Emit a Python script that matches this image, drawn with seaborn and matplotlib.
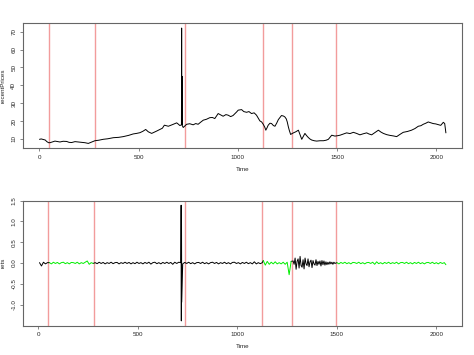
import numpy as np
import pandas as pd
import matplotlib
matplotlib.use("Agg")
import matplotlib.pyplot as plt
import seaborn as sns

# ---- data ----
price_time = [1, 10, 21, 30, 38, 47, 54, 65, 79, 90, 104, 120, 138, 150, 163, 180, 197, 213, 230, 247,
              262, 280, 300, 322, 345, 373, 400, 423, 450, 473, 490, 507, 522, 536, 549, 566, 580, 591,
              608, 620, 630, 650, 662, 675, 692, 700, 708, 716, 717, 718, 719, 720, 725, 735, 742, 758,
              775, 788, 800, 812, 826, 842, 859, 872, 884, 901, 914, 926, 940, 951, 964, 976, 994, 1002,
              1019, 1030, 1044, 1056, 1069, 1082, 1094, 1103, 1111, 1120, 1128, 1136, 1141, 1147, 1153,
              1162, 1170, 1179, 1187, 1196, 1204, 1212, 1220, 1230, 1237, 1244, 1249, 1254, 1259, 1266,
              1273, 1280, 1292, 1305, 1313, 1322, 1330, 1338, 1346, 1355, 1363, 1372, 1385, 1397, 1414,
              1431, 1445, 1456, 1465, 1473, 1489, 1502, 1515, 1532, 1548, 1565, 1582, 1598, 1615, 1632,
              1649, 1660, 1674, 1690, 1708, 1720, 1733, 1750, 1766, 1783, 1800, 1816, 1833, 1855, 1875,
              1892, 1909, 1922, 1934, 1947, 1959, 1972, 1984, 1997, 2010, 2022, 2035, 2042, 2048]
recent_prices = [9.8, 10.0, 9.7, 9.4, 8.5, 7.9, 7.9, 8.3, 8.8, 8.6, 8.3, 8.7, 8.6, 8.1, 8.0, 8.5, 8.3, 8.1, 7.9, 7.5,
                 8.2, 9.0, 9.3, 9.8, 10.1, 10.7, 10.9, 11.3, 12.0, 12.8, 13.1, 13.5, 14.3, 15.3, 14.0, 13.1, 13.8, 14.4,
                 15.3, 16.0, 17.7, 17.1, 17.6, 18.2, 19.0, 18.3, 17.5, 17.9, 72.0, 18.0, 45.0, 17.5, 16.4, 17.5, 18.2, 18.5,
                 17.9, 18.6, 18.2, 19.3, 20.5, 21.0, 21.9, 22.0, 21.4, 24.2, 23.4, 22.7, 23.6, 23.3, 22.5, 23.1, 25.1, 26.1,
                 26.4, 25.3, 24.9, 25.3, 24.2, 24.6, 23.3, 21.6, 20.1, 19.5, 18.2, 16.5, 14.9, 16.2, 17.7,
                 18.8, 18.6, 17.5, 17.1, 18.9, 20.8, 22.0, 23.1, 22.8, 22.3, 21.2, 19.5, 17.0, 14.9, 12.5,
                 13.0, 13.4, 14.0, 14.9, 12.5, 9.8, 11.5, 13.1, 11.9, 10.8, 10.0, 9.4, 9.0, 8.8, 9.0,
                 9.0, 9.3, 9.8, 11.0, 12.1, 11.6, 11.8, 12.1, 12.8, 13.4, 13.0, 13.7, 13.1, 12.3, 12.9,
                 13.4, 12.8, 12.3, 13.5, 14.9, 13.9, 13.1, 12.4, 12.0, 11.7, 11.3, 12.5, 13.7, 14.2, 14.9,
                 15.8, 17.1, 17.4, 18.2, 18.8, 19.5, 19.0, 18.6, 18.4, 18.0, 17.6, 19.3, 18.6, 13.4]

# log returns, one value per 10 time units, plus the spike
rets_a = [0.01, -0.07, 0.02, -0.02, 0.01]                                   # t 5..45
rets_b = [0.01, -0.02, 0.02, -0.01, 0.015, -0.02, 0.01, 0.02, -0.015, 0.01, -0.02, 0.015,
          0.01, -0.01, 0.02, -0.02, 0.01, -0.01, 0.02, 0.05, -0.03, 0.01, -0.01]      # t 55..275
rets_c = [0.01, -0.015, 0.02, -0.01, 0.015, -0.02, 0.01, -0.01, 0.02, -0.015, 0.01, 0.015,
          -0.02, 0.01, -0.01, 0.02, -0.01, 0.015, -0.02, 0.01, -0.015, 0.02, -0.01, 0.01,
          -0.02, 0.015, -0.01, 0.02, -0.025, 0.01, 0.02, -0.015, 0.01, -0.02, 0.015, -0.01,
          0.02, -0.01, 0.015, -0.03, 0.02, -0.01, 0.02, 0.01, -0.02, 0.015, -0.01, 0.02,
          -0.015, 0.01, -0.02, 0.01, 0.015, -0.01, 0.02, -0.015, 0.01, -0.02, 0.01, 0.02,
          -0.01, 0.015, -0.02, 0.01, -0.01, 0.02, -0.015, 0.01, -0.02, 0.015, 0.02, -0.01,
          0.01, -0.02, 0.015, -0.01, 0.02, -0.015, 0.01, -0.02, 0.03, -0.02, 0.01, -0.015, 0.01]  # t 285..1125
spike_time = [716, 717, 718, 719, 720]
spike_rets = [0.02, 1.39, -1.39, 0.92, -0.94]
rets_d = [0.06, -0.05, 0.04, -0.03, 0.02, -0.02, 0.03, -0.02, 0.01, -0.02, 0.02, -0.03,
          0.02, -0.28, 0.04]                                                # t 1130..1270
rets_e = [0.05, -0.03, 0.12, -0.15, 0.04, 0.10, -0.12, 0.16, -0.06, -0.10, 0.08, -0.14, 0.12, -0.02,
          -0.06, 0.10, -0.09, 0.03, 0.07, -0.11, 0.06, -0.02, -0.05, 0.08, -0.06, 0.04, -0.03,
          0.05, -0.07, 0.06, -0.04, 0.05, -0.05, 0.03, -0.04, 0.02, -0.03, 0.03, -0.02, 0.02,
          -0.03, 0.02, -0.01]                                               # t 1280..1490 (step 5)
rets_f = [0.01, -0.02, 0.015, -0.01, 0.02, -0.015, 0.01, -0.02, 0.015, 0.01, -0.01, 0.02,
          -0.015, 0.01, -0.02, 0.01, 0.015, -0.01, 0.02, -0.03, 0.03, -0.015, 0.01, -0.02,
          0.015, -0.01, 0.02, -0.015, 0.01, -0.01, 0.02, -0.02, 0.01, 0.015, -0.01, 0.02,
          -0.015, 0.01, -0.02, 0.015, -0.01, 0.02, -0.015, 0.01, -0.02, 0.01, 0.015, -0.01,
          0.02, -0.015, 0.01, -0.02, 0.015, -0.01, 0.01, -0.04]              # t 1500..2048

breakpoints = [47, 279, 735, 1126, 1274, 1494]
x_ticks = [0, 500, 1000, 1500, 2000]
y_ticks_top = [10, 20, 30, 40, 50, 60, 70]
y_ticks_bot = [-1.0, -0.5, 0.0, 0.5, 1.0, 1.5]

# ---- assemble returns table ----
t_a = list(range(5, 46, 10))
t_b = list(range(55, 276, 10))
t_c = list(range(285, 1126, 10))
t_d = list(range(1130, 1271, 10))
t_e = list(range(1280, 1491, 5))
t_f = list(range(1500, 2041, 10)) + [2048]

def seg(ts, vs, regime):
    return pd.DataFrame({"Time": ts, "rets": vs, "regime": regime})

df_c = seg(t_c + spike_time, rets_c + spike_rets, "c").sort_values("Time")
black_parts = [seg(t_a + [t_b[0]], rets_a + [rets_b[0]], "a"),
               seg([t_b[-1]] + list(df_c["Time"]) + [t_d[0]], [rets_b[-1]] + list(df_c["rets"]) + [rets_d[0]], "c"),
               seg([t_d[-1]] + t_e + [t_f[0]], [rets_d[-1]] + rets_e + [rets_f[0]], "e")]
green_parts = [seg(t_b, rets_b, "b"), seg(t_d, rets_d, "d"), seg(t_f, rets_f, "f")]

price_df = pd.DataFrame({"Time": price_time, "recentPrices": recent_prices})

# ---- figure ----
sns.set_style("white")
plt.rcParams["font.family"] = ["Liberation Sans", "DejaVu Sans"]
fig = plt.figure(figsize=(4.74, 3.55), dpi=100)
ax1 = fig.add_axes([0.049, 0.583, 0.926, 0.351])
ax2 = fig.add_axes([0.049, 0.083, 0.926, 0.352])

line_kw = dict(estimator=None, sort=False, linewidth=0.7, legend=False)
red = "#f29c9c"

sns.lineplot(data=price_df, x="Time", y="recentPrices", color="black", ax=ax1, **line_kw)
for part in black_parts:
    sns.lineplot(data=part, x="Time", y="rets", color="black", ax=ax2, **line_kw)
for part in green_parts:
    sns.lineplot(data=part, x="Time", y="rets", color="#00ee00", ax=ax2, **line_kw)

for ax in (ax1, ax2):
    for b in breakpoints:
        ax.axvline(b, color=red, linewidth=1.0, zorder=0)
    ax.margins(x=0.04, y=0.04)
    ax.set_xticks(x_ticks)
    ax.set_xticklabels([str(v) for v in x_ticks])
    ax.set_xlabel("Time", fontsize=4.5, labelpad=5)
    ax.tick_params(axis="both", labelsize=4.5, length=2, width=0.5, pad=3,
                   direction="out", color="#555555", bottom=True, left=True)
    for s in ax.spines.values():
        s.set_color("#666666")
        s.set_linewidth(0.8)

ax1.set_yticks(y_ticks_top)
ax1.set_yticklabels([str(v) for v in y_ticks_top], rotation=90, va="center")
ax1.set_ylabel("recentPrices", fontsize=4.5, labelpad=4)
ax2.set_yticks(y_ticks_bot)
ax2.set_yticklabels([f"{v:.1f}" for v in y_ticks_bot], rotation=90, va="center")
ax2.set_ylabel("rets", fontsize=4.5, labelpad=4)

fig.savefig("out.png", dpi=100)
